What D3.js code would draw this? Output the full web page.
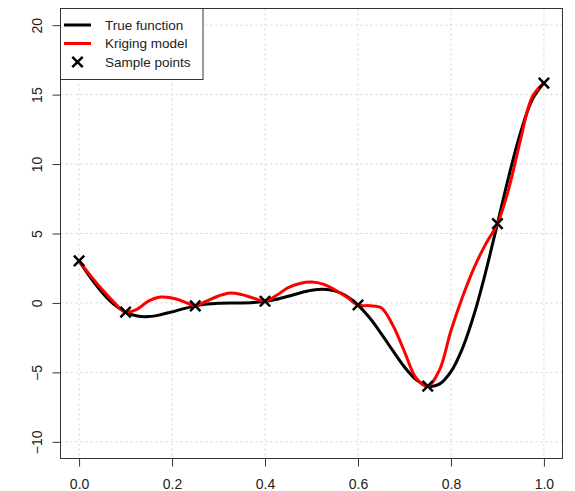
<!DOCTYPE html>
<html>
<head>
<meta charset="utf-8">
<script src="https://cdn.jsdelivr.net/npm/d3@7"></script>
<style>
  body { margin: 0; background: #fff; }
  svg text { font-family: "Liberation Sans", Arial, sans-serif; }
</style>
</head>
<body>
<svg width="575" height="491"></svg>
<script>
// values
var xGrid = [0, 0.025, 0.05, 0.075, 0.1, 0.125, 0.15, 0.175, 0.2, 0.225, 0.25, 0.275, 0.3, 0.325, 0.35, 0.375, 0.4,
             0.425, 0.45, 0.475, 0.5, 0.525, 0.55, 0.575, 0.6, 0.625, 0.65, 0.675, 0.7, 0.725, 0.75, 0.775, 0.8,
             0.825, 0.85, 0.875, 0.9, 0.925, 0.95, 0.975, 1.0];
var trueVals = [3.03, 1.81, 0.74, -0.10, -0.66, -0.94, -0.98, -0.85, -0.64, -0.41, -0.21, -0.08, -0.02, 0.0, 0.0, 0.03, 0.12,
                0.27, 0.48, 0.72, 0.91, 0.99, 0.87, 0.50, -0.15, -1.07, -2.21, -3.44, -4.61, -5.52, -5.99, -5.85, -4.95,
                -3.25, -0.80, 2.27, 5.71, 9.19, 12.30, 14.65, 15.83];
var krigVals = [3.03, 1.95, 0.95, 0.05, -0.66, -0.45, 0.15, 0.42, 0.35, 0.10, -0.21, 0.15, 0.50, 0.72, 0.60, 0.35, 0.12,
                0.55, 1.10, 1.40, 1.50, 1.35, 0.95, 0.45, -0.15, -0.20, -0.35, -1.60, -3.50, -5.40, -5.99, -4.85, -2.00,
                0.45, 2.55, 4.25, 5.71, 8.30, 11.80, 14.85, 15.83];
var sampleX = [0, 0.1, 0.25, 0.4, 0.6, 0.75, 0.9, 1.0];
var sampleY = [3.03, -0.66, -0.21, 0.12, -0.15, -5.99, 5.71, 15.83];
var xTicks = [0, 0.2, 0.4, 0.6, 0.8, 1.0];
var yTicks = [-10, -5, 0, 5, 10, 15, 20];
var legendLabels = ["True function", "Kriging model", "Sample points"];

var svg = d3.select("svg");
var boxL = 60.5, boxR = 562.5, boxT = 8.5, boxB = 458.5;

// R style: range extended by 4% on each side
var x = d3.scaleLinear().domain([-0.04, 1.04]).range([boxL, boxR]);
var y = d3.scaleLinear().domain([-11.2, 21.2]).range([boxB, boxT]);

// grid, light gray dotted
svg.append("g").selectAll("line").data(xTicks).enter().append("line")
   .attr("x1", function(d) { return x(d); }).attr("x2", function(d) { return x(d); })
   .attr("y1", boxT).attr("y2", boxB)
   .attr("stroke", "#d3d3d3").attr("stroke-dasharray", "2,3");
svg.append("g").selectAll("line").data(yTicks).enter().append("line")
   .attr("y1", function(d) { return y(d); }).attr("y2", function(d) { return y(d); })
   .attr("x1", boxL).attr("x2", boxR)
   .attr("stroke", "#d3d3d3").attr("stroke-dasharray", "2,3");

// axes
var gx = svg.append("g").attr("transform", "translate(0," + boxB + ")")
   .call(d3.axisBottom(x).tickValues(xTicks).tickSize(8).tickPadding(13).tickFormat(d3.format(".1f")));
var gy = svg.append("g").attr("transform", "translate(" + boxL + ",0)")
   .call(d3.axisLeft(y).tickValues(yTicks).tickSize(8));
[gx, gy].forEach(function(g) {
  g.select(".domain").remove();
  g.selectAll("line").attr("stroke", "#333");
  g.selectAll("text").attr("font-size", "14px").attr("fill", "#222")
   .style("font-family", "'Liberation Sans', Arial, sans-serif");
});
gy.selectAll("text")
  .attr("x", null).attr("dy", null)
  .attr("text-anchor", "middle")
  .attr("transform", "translate(-19,0) rotate(-90)");

// plot box
svg.append("rect").attr("x", boxL).attr("y", boxT)
   .attr("width", boxR - boxL).attr("height", boxB - boxT)
   .attr("fill", "none").attr("stroke", "#333");

var line = d3.line().curve(d3.curveCatmullRom)
   .x(function(d) { return x(d[0]); }).y(function(d) { return y(d[1]); });

svg.append("path").datum(xGrid.map(function(v, i) { return [v, trueVals[i]]; }))
   .attr("d", line).attr("fill", "none").attr("stroke", "#000").attr("stroke-width", 3);
svg.append("path").datum(xGrid.map(function(v, i) { return [v, krigVals[i]]; }))
   .attr("d", line).attr("fill", "none").attr("stroke", "#ff0000").attr("stroke-width", 3);

// x mark symbol (pch = 4)
var times = d3.symbolTimes || {
  draw: function(ctx, size) {
    var r = Math.sqrt(size) * 0.35;
    ctx.moveTo(-r, -r); ctx.lineTo(r, r);
    ctx.moveTo(-r, r); ctx.lineTo(r, -r);
  }
};
var cross = d3.symbol().type(times).size(72);

svg.append("g").selectAll("path").data(sampleX).enter().append("path")
   .attr("transform", function(d, i) { return "translate(" + x(d) + "," + y(sampleY[i]) + ")"; })
   .attr("d", cross).attr("fill", "none").attr("stroke", "#000").attr("stroke-width", 2.5);

// legend
var legend = svg.append("g");
legend.append("rect").attr("x", boxL).attr("y", boxT).attr("width", 142.5).attr("height", 71)
   .attr("fill", "#fff").attr("stroke", "#333");
var rowY = [25, 43.5, 62];
legend.append("line").attr("x1", 64).attr("x2", 91).attr("y1", rowY[0]).attr("y2", rowY[0])
   .attr("stroke", "#000").attr("stroke-width", 3);
legend.append("line").attr("x1", 64).attr("x2", 91).attr("y1", rowY[1]).attr("y2", rowY[1])
   .attr("stroke", "#ff0000").attr("stroke-width", 3);
legend.append("path").attr("transform", "translate(77.5," + rowY[2] + ")")
   .attr("d", cross).attr("fill", "none").attr("stroke", "#000").attr("stroke-width", 2.5);
legend.selectAll("text").data(legendLabels).enter().append("text")
   .attr("x", 105).attr("y", function(d, i) { return rowY[i]; })
   .attr("dy", "0.35em").attr("font-size", "13.5px").attr("fill", "#222")
   .text(function(d) { return d; });
</script>
</body>
</html>
